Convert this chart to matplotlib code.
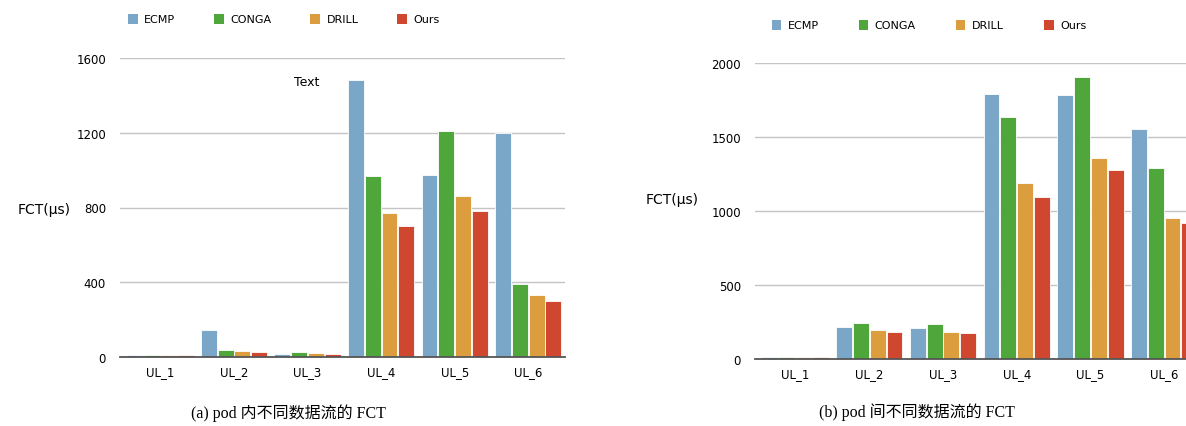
import numpy as np
import matplotlib.pyplot as plt
from matplotlib.patches import Patch

# data
categories = ['UL_1', 'UL_2', 'UL_3', 'UL_4', 'UL_5', 'UL_6']
series = ['ECMP', 'CONGA', 'DRILL', 'Ours']
colors = ['#7aa6c8', '#4fa63a', '#dc9d3e', '#cf472f']

intra_ecmp = [10, 144, 14, 1482, 975, 1198]
intra_conga = [10, 36, 25, 968, 1209, 390]
intra_drill = [10, 30, 22, 770, 861, 332]
intra_ours = [10, 25, 18, 700, 781, 300]

inter_ecmp = [12, 216, 207, 1791, 1782, 1555]
inter_conga = [12, 243, 234, 1636, 1906, 1291]
inter_drill = [12, 196, 185, 1190, 1359, 953]
inter_ours = [12, 183, 176, 1095, 1278, 919]

left_ticks = [0, 400, 800, 1200, 1600]
right_ticks = [0, 500, 1000, 1500, 2000]

W, H = 1186, 427
fig = plt.figure(figsize=(W / 100, H / 100), dpi=100)


def box(x0, x1, ytop, ybot):
    return [x0 / W, 1 - ybot / H, (x1 - x0) / W, (ybot - ytop) / H]


def draw(ax, data, ticks, ymax):
    x = np.arange(len(categories))
    pitch = 0.228
    for i, (vals, c) in enumerate(zip(data, colors)):
        ax.bar(x + (i - 1.5) * pitch, vals, width=0.215, color=c,
               edgecolor='white', linewidth=0.6, zorder=3)
    ax.set_xlim(-0.55, 5.5)
    ax.set_ylim(0, ymax)
    ax.set_yticks(ticks)
    ax.set_yticklabels([str(t) for t in ticks], fontsize=8.5)
    ax.set_xticks(x)
    ax.set_xticklabels(categories, fontsize=8.5)
    ax.tick_params(length=0, pad=10)
    ax.tick_params(axis='x', pad=6)
    for t in ticks[1:]:
        ax.axhline(t, color='#c4c4c4', lw=1, zorder=1)
    for s in ['top', 'right', 'left']:
        ax.spines[s].set_visible(False)
    ax.spines['bottom'].set_color('#555555')
    ax.spines['bottom'].set_linewidth(1.3)
    ax.spines['bottom'].set_zorder(4)


ax1 = fig.add_axes(box(120, 565, 59, 358))
draw(ax1, [intra_ecmp, intra_conga, intra_drill, intra_ours], left_ticks, 1600)

ax2 = fig.add_axes(box(755, 1201, 64, 360))
draw(ax2, [inter_ecmp, inter_conga, inter_drill, inter_ours], right_ticks, 2000)

fig.text(307 / W, 1 - 82 / H, 'Text', fontsize=9, ha='center', va='center')

# y labels
fig.text(44 / W, 1 - 210 / H, 'FCT(μs)', fontsize=10, va='center', ha='center')
fig.text(672 / W, 1 - 200 / H, 'FCT(μs)', fontsize=10, va='center', ha='center')

# legends
handles = [Patch(facecolor=c, edgecolor='none') for c in colors]
fig.legend(handles, series, loc='center', bbox_to_anchor=(284 / W, 1 - 20 / H),
           ncol=4, frameon=False, fontsize=8, handlelength=0.85, handleheight=1.0,
           columnspacing=3.5, handletextpad=0.6)
fig.legend(handles, series, loc='center', bbox_to_anchor=(929 / W, 1 - 26 / H),
           ncol=4, frameon=False, fontsize=8, handlelength=0.85, handleheight=1.0,
           columnspacing=3.6, handletextpad=0.6)

# captions
cap_font = ['Liberation Serif', 'Noto Sans CJK SC']
fig.text(288 / W, 1 - 413 / H, '(a) pod 内不同数据流的 FCT', fontsize=11.5,
         ha='center', va='center', family=cap_font)
fig.text(917 / W, 1 - 412 / H, '(b) pod 间不同数据流的 FCT', fontsize=11.5,
         ha='center', va='center', family=cap_font)

fig.savefig('out.png', dpi=100)
